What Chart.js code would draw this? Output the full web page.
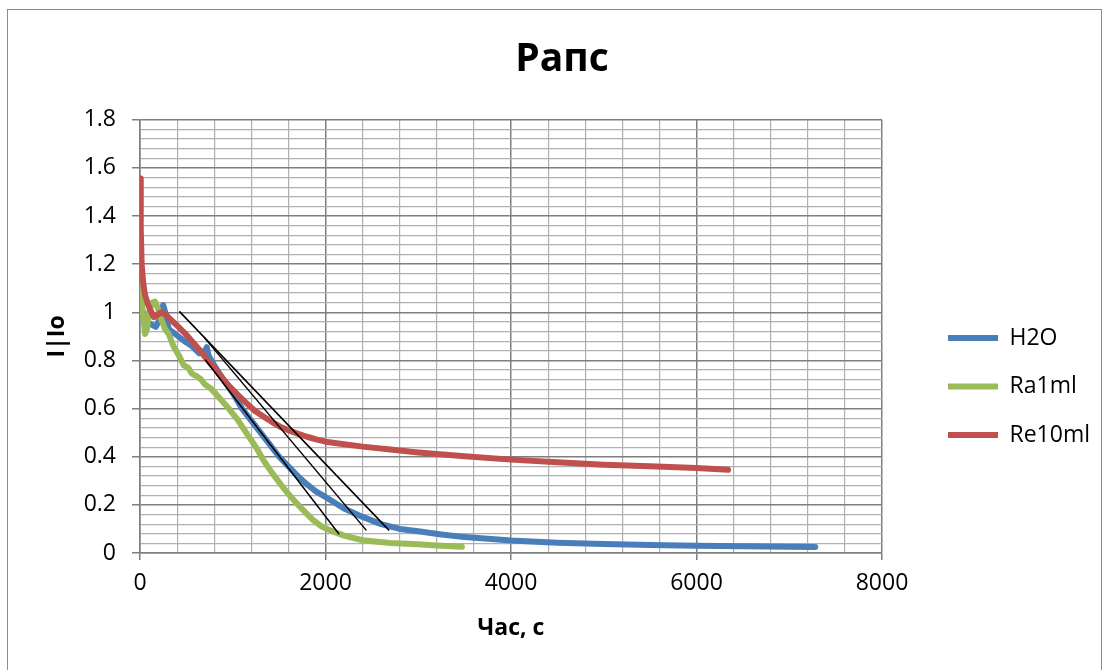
<!DOCTYPE html>
<html>
<head>
<meta charset="utf-8">
<title>Рапс</title>
<script src="https://cdn.jsdelivr.net/npm/chart.js@4.4.1/dist/chart.umd.min.js"></script>
<style>
    html, body { margin: 0; padding: 0; background: #fff; overflow: hidden; }
    #frame {
        position: absolute; left: 7px; top: 9px; width: 1095px; height: 700px;
        border: 1px solid #8c8c8c; box-sizing: border-box;
    }
    #wrap { position: absolute; left: 0; top: 0; width: 1108px; height: 670px; }
</style>
</head>
<body>
<div id="frame"></div>
<div id="wrap"><canvas id="rapsChart" width="1108" height="670"></canvas></div>
<script>
// Series (time in s, I|Io)
const h2oTime = [0, 15, 40, 80, 120, 170, 210, 250, 280, 310, 380, 480, 560, 640, 700, 720, 740, 800, 900,
    1000, 1100, 1200, 1300, 1400, 1500, 1600, 1700, 1800, 1900, 2000, 2200, 2400, 2600, 2800, 3000,
    3250, 3500, 4000, 4500, 5000, 5500, 6000, 6500, 7000, 7280];
const h2oValues = [1.05, 0.99, 1.0, 0.96, 0.95, 0.94, 0.97, 1.03, 0.99, 0.93, 0.91, 0.88, 0.86, 0.83, 0.84, 0.855, 0.82, 0.78, 0.72,
    0.665, 0.6, 0.55, 0.5, 0.45, 0.40, 0.36, 0.32, 0.285, 0.255, 0.233, 0.185, 0.15, 0.12, 0.10, 0.09,
    0.077, 0.066, 0.052, 0.043, 0.037, 0.033, 0.030, 0.028, 0.026, 0.025];

const ra1Time = [0, 10, 30, 55, 75, 100, 130, 160, 190, 230, 270, 310, 360, 420, 470, 520, 560, 610, 660, 700,
    760, 820, 900, 970, 1050, 1150, 1250, 1330, 1420, 1510, 1600, 1690, 1780, 1870, 1960, 2050,
    2200, 2400, 2700, 3000, 3200, 3470];
const ra1Values = [1.19, 1.1, 1.0, 0.91, 0.93, 1.0, 1.04, 1.045, 1.02, 0.97, 0.93, 0.91, 0.86, 0.82, 0.78, 0.77, 0.745, 0.735, 0.72, 0.70,
    0.685, 0.66, 0.625, 0.594, 0.555, 0.497, 0.44, 0.386, 0.335, 0.289, 0.245, 0.206, 0.17, 0.136, 0.11, 0.094,
    0.072, 0.053, 0.042, 0.036, 0.031, 0.026];

const re10Time = [0, 8, 18, 35, 55, 80, 110, 150, 190, 230, 280, 330, 400, 480, 560, 640, 720, 800, 880, 970,
    1060, 1150, 1240, 1330, 1420, 1510, 1600, 1690, 1800, 1900, 2000, 2200, 2400, 2700, 3000, 3500,
    4000, 4500, 5000, 5500, 6000, 6340];
const re10Values = [1.556, 1.35, 1.2, 1.12, 1.07, 1.04, 1.01, 0.98, 0.99, 1.0, 0.99, 0.97, 0.945, 0.915, 0.88, 0.845, 0.805, 0.77, 0.73, 0.69,
    0.655, 0.622, 0.59, 0.567, 0.545, 0.525, 0.51, 0.497, 0.483, 0.472, 0.4625, 0.452, 0.442, 0.43, 0.418, 0.402,
    0.388, 0.377, 0.367, 0.36, 0.353, 0.346];

// Hand-drawn tangent lines (start / end points)
const tangentTime = [[424, 2686], [689, 2441], [704, 2147]];
const tangentValues = [[1.004, 0.094], [0.897, 0.094], [0.803, 0.078]];

const seriesNames = ['H2O', 'Ra1ml', 'Re10ml'];
const seriesColors = ['#4a7ebb', '#9bbb59', '#c0504d'];

const xTicksMajor = 2000;
const yTicksMajor = 0.2;

const FONT = '"Open Sans", "Noto Sans", sans-serif';

function toPoints(xs, ys) {
    return xs.map((x, i) => ({ x: x, y: ys[i] }));
}

function isMajor(v, step) {
    const r = v / step;
    return Math.abs(r - Math.round(r)) < 1e-6;
}

const seriesData = [
    toPoints(h2oTime, h2oValues),
    toPoints(ra1Time, ra1Values),
    toPoints(re10Time, re10Values),
];
const drawOrder = [3, 2, 1];

const datasets = seriesNames.map((name, i) => ({
    label: name,
    data: seriesData[i],
    borderColor: seriesColors[i],
    backgroundColor: seriesColors[i],
    borderWidth: 6,
    borderCapStyle: 'round',
    borderJoinStyle: 'round',
    pointRadius: 0,
    showLine: true,
    order: drawOrder[i],
}));

tangentTime.forEach((xs, i) => {
    datasets.push({
        label: 'tangent' + i,
        data: toPoints(xs, tangentValues[i]),
        borderColor: '#000',
        borderWidth: 1.5,
        pointRadius: 0,
        showLine: true,
        order: 0,
    });
});

// Legend sits to the right of the plot, shifted like Excel places it
const legendPlacement = {
    id: 'legendPlacement',
    beforeInit(chart) {
        const legend = chart.legend;
        if (!legend) return;
        const originalFit = legend.fit;
        legend.fit = function fit() {
            originalFit.call(this);
            this.width = 226;
        };
        const originalDraw = legend.draw;
        legend.draw = function draw() {
            const ctx = this.ctx;
            ctx.save();
            ctx.translate(40.5, 47);
            originalDraw.call(this);
            ctx.restore();
        };
    }
};

const config = {
    type: 'scatter',
    data: { datasets },
    plugins: [legendPlacement],
    options: {
        responsive: false,
        animation: false,
        layout: { padding: { left: 16, top: 9, right: 0, bottom: 0 } },
        plugins: {
            title: {
                display: true,
                text: 'Рапс',
                color: '#000',
                font: { family: FONT, size: 39, weight: 'bold' },
                padding: { top: 27, bottom: 37 },
            },
            legend: {
                display: true,
                position: 'right',
                labels: {
                    color: '#000',
                    font: { family: FONT, size: 23 },
                    usePointStyle: true,
                    pointStyle: 'line',
                    pointStyleWidth: 50,
                    padding: 25.5,
                    filter: (item) => item.datasetIndex < seriesNames.length,
                    sort: (a, b) => a.datasetIndex - b.datasetIndex,
                },
            },
            tooltip: { enabled: false },
        },
        scales: {
            x: {
                type: 'linear',
                min: 0,
                max: 8000,
                afterFit: (scale) => { scale.height = 117; },
                title: {
                    display: true,
                    text: 'Час, с',
                    color: '#000',
                    font: { family: FONT, size: 23, weight: 'bold' },
                    padding: { top: 0, bottom: 28 },
                },
                ticks: {
                    stepSize: 400,
                    autoSkip: false,
                    maxRotation: 0,
                    maxTicksLimit: 100,
                    padding: 10,
                    color: '#000',
                    font: { family: FONT, size: 23 },
                    callback: (v) => isMajor(v, xTicksMajor) ? String(v) : '',
                },
                grid: {
                    color: (ctx) => isMajor(ctx.tick.value, xTicksMajor) ? '#7f7f7f' : '#b0b0b0',
                    tickColor: (ctx) => isMajor(ctx.tick.value, xTicksMajor) ? '#7f7f7f' : 'rgba(0,0,0,0)',
                    tickLength: 7,
                    lineWidth: (ctx) => isMajor(ctx.tick.value, xTicksMajor) ? 1.5 : 1.2,
                },
                border: { display: true, color: '#7f7f7f', width: 1.5 },
            },
            y: {
                type: 'linear',
                min: 0,
                max: 1.8,
                afterFit: (scale) => { scale.width = 124; },
                title: {
                    display: true,
                    text: 'I|Io',
                    color: '#000',
                    font: { family: FONT, size: 23, weight: 'bold' },
                    padding: { top: 28, bottom: 0 },
                },
                ticks: {
                    stepSize: 0.04,
                    autoSkip: false,
                    maxTicksLimit: 100,
                    padding: 16,
                    color: '#000',
                    font: { family: FONT, size: 23 },
                    callback: (v) => isMajor(v, yTicksMajor) ? String(Number(v.toFixed(1))) : '',
                },
                grid: {
                    color: (ctx) => isMajor(ctx.tick.value, yTicksMajor) ? '#7f7f7f' : '#b0b0b0',
                    tickColor: (ctx) => isMajor(ctx.tick.value, yTicksMajor) ? '#7f7f7f' : 'rgba(0,0,0,0)',
                    tickLength: 8,
                    lineWidth: (ctx) => isMajor(ctx.tick.value, yTicksMajor) ? 1.5 : 1.2,
                },
                border: { display: true, color: '#7f7f7f', width: 1.5 },
            },
        },
    },
};

new Chart(document.getElementById('rapsChart'), config);
</script>
</body>
</html>
